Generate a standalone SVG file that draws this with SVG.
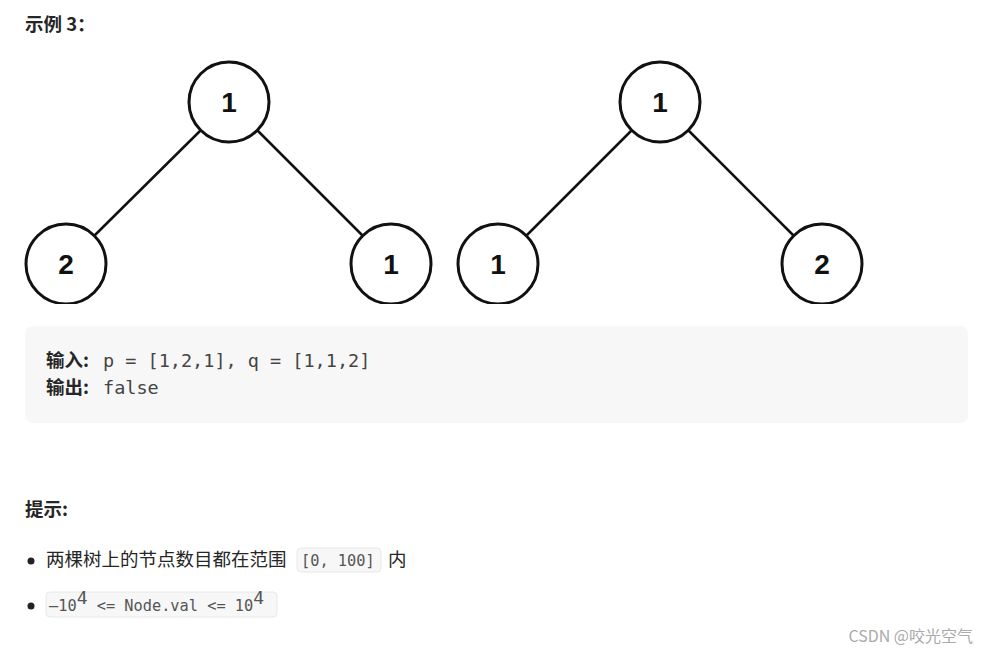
<svg xmlns="http://www.w3.org/2000/svg" width="990" height="654" viewBox="0 0 990 654">
<style>
.n circle{fill:#fff;stroke:#111;stroke-width:3}
.n text{font-family:"Liberation Sans",Arial,sans-serif;font-weight:bold;font-size:28px;fill:#111;text-anchor:middle}
.e line{stroke:#111;stroke-width:2.5}
.t{font-family:"Noto Sans CJK SC","Noto Sans",sans-serif;font-size:18.5px;fill:#262626}
.b{font-weight:bold}
.m{font-family:"DejaVu Sans Mono","Liberation Mono",monospace;font-size:18.5px;fill:#444}
.ms{font-family:"DejaVu Sans Mono","Liberation Mono",monospace;font-size:15.3px;fill:#555}
</style>
<rect width="990" height="654" fill="#fff"/>
<text class="t b" x="25" y="31">示例 3：</text>
<g class="e">
<line x1="201" y1="130" x2="94" y2="236"/>
<line x1="257" y1="130" x2="363" y2="236"/>
<line x1="632" y1="130" x2="526" y2="236"/>
<line x1="688" y1="130" x2="794" y2="236"/>
</g>
<g id="a1" class="n"><circle cx="229" cy="102" r="40"/><text x="229" y="112">1</text></g>
<g id="a2" class="n"><circle cx="66" cy="264" r="40"/><text x="66" y="274">2</text></g>
<g id="a3" class="n"><circle cx="391" cy="264" r="40"/><text x="391" y="274">1</text></g>
<g id="b1" class="n"><circle cx="660" cy="102" r="40"/><text x="660" y="112">1</text></g>
<g id="b2" class="n"><circle cx="498" cy="264" r="40"/><text x="498" y="274">1</text></g>
<g id="b3" class="n"><circle cx="822" cy="264" r="40"/><text x="822" y="274">2</text></g>
<rect x="0" y="304" width="990" height="10" fill="#fff"/>
<rect x="25" y="326" width="943" height="97" rx="8" fill="#f7f7f7"/>
<text class="t b" x="46" y="367">输入:</text>
<text class="m" x="103" y="367">p = [1,2,1], q = [1,1,2]</text>
<text class="t b" x="46" y="394">输出:</text>
<text class="m" x="103" y="394">false</text>
<text class="t b" x="25" y="516">提示:</text>
<circle cx="31" cy="561" r="3.5" fill="#222"/>
<text class="t" x="46" y="566">两棵树上的节点数目都在范围</text>
<rect x="297" y="548" width="84" height="24" rx="4" fill="#f7f7f7" stroke="#e8e8e8"/>
<text class="ms" x="301" y="566">[0, 100]</text>
<text class="t" x="388" y="566">内</text>
<circle cx="31" cy="606" r="3.5" fill="#222"/>
<rect x="46" y="592" width="231" height="25" rx="4" fill="#f7f7f7" stroke="#e8e8e8"/>
<text class="ms" x="49" y="611">–10<tspan dy="-7" font-size="18">4</tspan><tspan dy="7"> &lt;= Node.val &lt;= 10</tspan><tspan dy="-7" font-size="18">4</tspan></text>
<text x="973" y="642" font-family="'Noto Sans CJK SC',sans-serif" font-size="16" fill="#aaa" text-anchor="end">CSDN @咬光空气</text>
</svg>
